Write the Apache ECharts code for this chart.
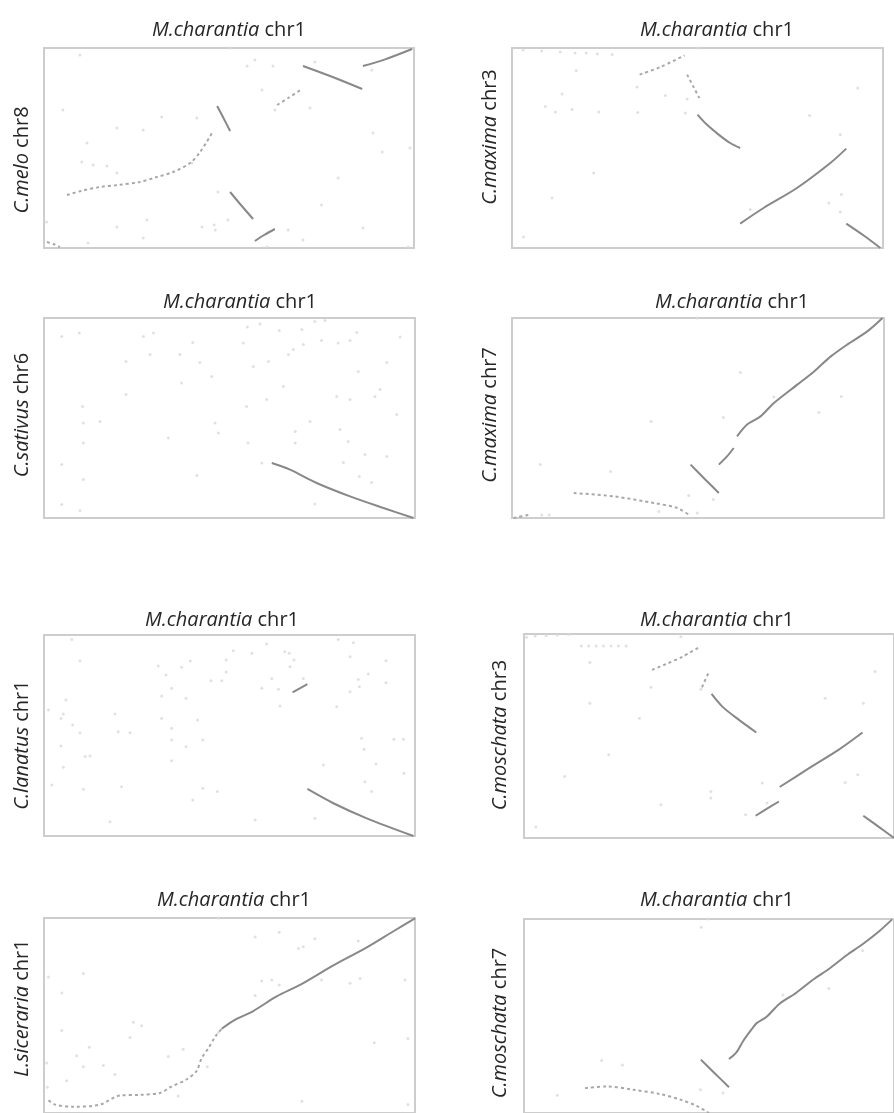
<!DOCTYPE html>
<html>
<head>
<meta charset="utf-8">
<script src="https://cdn.jsdelivr.net/npm/echarts@6/dist/echarts.min.js"></script>
<style>
  html, body { margin: 0; padding: 0; background: #ffffff; }
  #chart { width: 894px; height: 1113px; }
</style>
</head>
<body>
<div id="chart"></div>
<script>
// Reference chromosome shown on every x axis
const xGenus = 'M.charantia';
const xChr = 'chr1';

// Query chromosome shown on each y axis (panel order: row by row, left to right)
const yGenus = ['C.melo', 'C.maxima', 'C.sativus', 'C.maxima', 'C.lanatus', 'C.moschata', 'L.siceraria', 'C.moschata'];
const yChr = ['chr8', 'chr3', 'chr6', 'chr7', 'chr1', 'chr3', 'chr1', 'chr7'];

// Positions are relative (% of chromosome length) on both axes.
// "blocks" = collinear runs, "trails" = sparse, broken runs, "dots" = isolated matches.

// Panel 1: C.melo chr8
const p1Blocks = [
  [[86.2, 91], [92, 94.2], [99.5, 99.5]],
  [[70, 91], [78, 85.5], [86, 79.5]],
  [[46.8, 71], [48.5, 65], [50.3, 58.5]],
  [[50.3, 28], [53, 22], [56.5, 14.5]],
  [[57, 3.5], [59.5, 6.5], [62.4, 9.5]]
];
const p1Trails = [
  [[63, 71.5], [66, 75], [69.7, 79.5]],
  [[6.2, 26.5], [10, 28.5], [15.1, 30.5], [20, 31.5], [25.9, 33], [30.5, 35.5], [34.9, 38], [39.5, 42.5], [42.2, 48], [45.4, 57.5]],
  [[0.8, 3], [2.5, 2], [4.3, 0.5]]
];
const p1Dots = [
  [9.7, 96.5], [5.1, 69], [11.6, 52.5], [10.2, 43], [13.3, 41.5], [17, 41], [19.7, 37.5], [19.7, 60], [26.8, 59],
  [31.8, 65.5], [41.3, 65], [40, 42.5], [27.8, 14], [19.7, 10.5], [26.8, 5], [0.7, 13], [11.9, 2.5], [42.7, 10.5],
  [47, 28], [49.7, 14], [46, 11.5], [46.3, 9], [54.9, 91], [57, 94], [58.9, 79], [61.9, 91], [62.4, 69], [71.9, 70],
  [73.2, 93], [88.6, 89], [88.9, 57.5], [91.4, 48], [98.9, 50], [79.5, 35], [75, 21.5], [86.2, 10], [98.4, 0.5],
  [66, 9], [70, 4], [50.3, 100], [60.3, 0.5]
];

// Panel 2: C.maxima chr3
const p2Blocks = [
  [[50, 66.7], [52.5, 61.7], [55.7, 56.7], [58.8, 52.5], [61.5, 50]],
  [[61.5, 12.2], [67.8, 20], [76.8, 30], [85.8, 42.5], [90.1, 49.7]],
  [[90.1, 12.2], [95, 6], [99.3, 0]]
];
const p2Trails = [
  [[34.4, 86.7], [40, 90.5], [46.5, 96.3]],
  [[47.2, 86.7], [48.8, 81], [50.5, 75]]
];
const p2Dots = [
  [3, 99], [8, 98.5], [13, 98], [17, 97.5], [20, 97.5], [23, 97], [27, 96.7],
  [17.3, 88.7], [13.5, 77], [9, 70.8], [11.7, 68], [16.2, 69.2], [23.4, 68], [33.7, 80.5], [33.9, 67.8],
  [41.3, 76.2], [47.2, 74.5], [46.7, 67.5], [22, 37.5], [10.8, 25], [3.1, 5.5], [80.2, 66.2], [93.2, 80],
  [88.5, 56.7], [88.8, 26.7], [85.4, 22.5], [88.5, 18], [64.2, 19.2], [50.3, 100]
];

// Panel 3: C.sativus chr6
const p3Blocks = [
  [[61.4, 27.5], [66.3, 24.2], [73.5, 17.5], [82.5, 10.8], [91.5, 5], [99.6, 0]]
];
const p3Trails = [];
const p3Dots = [
  [4.8, 90.8], [9.5, 92.5], [26.8, 90.8], [29.5, 92.5], [40.1, 87.8], [54.8, 95.5], [58.2, 97], [63.4, 93.8],
  [69.5, 94.2], [73, 98.3], [75.7, 98.8], [84.3, 92.8], [96, 90.5], [82.5, 88.8], [79.3, 87.5], [74.8, 88.7],
  [69.9, 86.7], [53.7, 87.5], [22.1, 78.3], [28.6, 81.7], [36.6, 81.7], [42, 77.8], [56.4, 75.8], [60.5, 78.3],
  [65.9, 81.7], [67.2, 84.2], [92.4, 77.8], [84.7, 73.3], [45.2, 70.8], [37.1, 67.5], [64.5, 65.8], [22.1, 61.7],
  [60, 59.2], [78.9, 60.8], [82.5, 59.2], [89.2, 60.8], [90.6, 64.2], [95.1, 51.7], [10.4, 55.8], [54.6, 55.8],
  [71.7, 48.3], [67.7, 43.3], [79.8, 44.2], [10.6, 47.5], [15.1, 48.3], [46.1, 47.5], [47, 42.5], [33.5, 40],
  [10.6, 37.5], [55, 37.5], [67.7, 37.5], [82, 38.3], [86.5, 31.7], [92.4, 30.8], [80.7, 27.8], [4.8, 26.7],
  [41.2, 21.2], [10.6, 19.2], [58.7, 27.5], [85, 20.8], [88.3, 17.8], [4.8, 6.7], [9.7, 3.8], [73, 7]
];

// Panel 4: C.maxima chr7
const p4Blocks = [
  [[55.6, 26.7], [57.8, 30.8], [59.6, 35]],
  [[60.5, 40.8], [63.2, 46.7], [66.8, 50.8], [70.4, 57.5], [76.7, 66.7], [81.2, 73.3], [85.7, 80.8], [90.1, 86.7], [95.5, 93.3], [99.6, 100]],
  [[48, 26.7], [51.8, 19.5], [55.6, 12.5]]
];
const p4Trails = [
  [[16.6, 12.5], [27.4, 10.8], [38.1, 7.5], [44.4, 5], [47.5, 1.7]],
  [[0.4, 0], [4.9, 1.7]]
];
const p4Dots = [
  [61.4, 72.8], [70.4, 60.5], [88.5, 60.8], [82.5, 52.8], [56.8, 50.3], [37.4, 48.3], [7.6, 26.7], [26.5, 23.3],
  [47.5, 11.2], [54.1, 9.2], [39.5, 3.3], [49.8, 2.5], [49.8, 100], [8, 1.5], [10, 1.5]
];

// Panel 5: C.lanatus chr1
const p5Blocks = [
  [[67, 71.5], [71, 75.5]],
  [[71, 23.4], [78, 16.3], [87, 8.8], [99.6, 0]]
];
const p5Trails = [];
const p5Dots = [
  [7.5, 97.8], [9.7, 87.2], [30.8, 84.6], [32.9, 80.1], [37.1, 83.9], [39.4, 87.1], [49.1, 87.6], [51, 92.2],
  [56, 90.9], [60, 95.5], [64.9, 91.7], [66.1, 90.9], [67.4, 87.6], [66.3, 84.2], [79.3, 97.8], [83.4, 96.2],
  [82.5, 89.2], [92.2, 87.2], [87.4, 80.6], [84.7, 77.9], [85, 74.3], [82.5, 71.8], [92.2, 76.3], [78.9, 64.3],
  [69.9, 78.4], [61.4, 78.4], [58.7, 73.5], [63.2, 73], [63.6, 64.7], [45, 77.3], [47.9, 77.3], [49.1, 81.6],
  [34.4, 73.5], [31.7, 69.7], [38.3, 68.5], [5.9, 67.7], [1.2, 62.7], [5.2, 60.7], [4.6, 58.5], [19.1, 60.7],
  [7.7, 55.2], [9.7, 51.4], [20, 51.9], [23.2, 51.4], [31.7, 58.5], [34.4, 53.6], [34.4, 47.8], [41.4, 57.7],
  [42.8, 47.8], [38.3, 44.4], [4.6, 44.8], [11.1, 39.5], [12.4, 39.8], [5.2, 34.2], [34.4, 37.5], [85.6, 48.6],
  [86.3, 43.1], [94.3, 48.1], [96.9, 48.1], [89.5, 35.8], [97, 31.2], [86.5, 27], [75.3, 35.3], [88.3, 22.1],
  [2.1, 25.4], [10.6, 23.2], [20.9, 24.5], [42.8, 23.7], [46.7, 22.1], [40.1, 17.9], [73, 8.8], [56.9, 8], [17.8, 7.1]
];

// Panel 6: C.moschata chr3
const p6Blocks = [
  [[50.7, 70.6], [53.6, 64.4], [58.1, 57.9], [62.8, 51.7]],
  [[69.1, 25], [77.8, 35.1], [85, 43.2], [91.5, 51.7]],
  [[62.6, 10.9], [65.8, 14.5], [68.9, 17.9]],
  [[91.7, 10.9], [95.8, 5.6], [100, 0]]
];
const p6Trails = [
  [[34.6, 82.4], [38.4, 85.3], [42.9, 88.9], [47.3, 93.5]],
  [[48.1, 73.9], [50, 81.6]]
];
const p6Dots = [
  [0.7, 98.4], [3, 99], [6, 99.3], [9, 99.5], [12, 99.8], [15.5, 94.1], [17.5, 94.1], [19.5, 94.1], [21.5, 94.1],
  [23.5, 94.1], [25.5, 94.1], [27.6, 94.1],
  [17.8, 86], [34.3, 73.9], [47.8, 72.9], [17.8, 66.1], [31.2, 58.7], [22.9, 40.8], [11, 30.2], [50.5, 22.8],
  [50.5, 19.6], [37, 16.3], [64.4, 26.9], [65.7, 17.1], [59.9, 11.4], [3.2, 5.4], [81.4, 68.5], [91.7, 66.1],
  [94.9, 81.6], [86.8, 27.2], [90.2, 31], [42.4, 98.7]
];

// Panel 7: L.siceraria chr1
const p7Blocks = [
  [[47.9, 43.2], [51, 47.3], [56.4, 52.3], [62.7, 59.8], [69, 65.7], [78, 75.7], [86.9, 84.8], [94.2, 93.2], [100, 99.8]]
];
const p7Trails = [
  [[1.2, 6.5], [3, 4.3], [7.9, 3.2], [15.1, 4.3], [20.5, 9], [25.9, 9.3], [31.3, 10.3], [34, 13.2], [38.5, 17.3],
   [41.1, 21.5], [42.5, 28.2], [44.3, 33.2], [46.1, 39], [47.9, 43.2]]
];
const p7Dots = [
  [10.6, 71.5], [4.8, 61.5], [1.2, 69.8], [4.8, 42.3], [8.8, 29.3], [10.6, 23.7], [12.2, 33.7], [16, 24.3],
  [19.1, 19.8], [24.1, 46.5], [26.3, 44.8], [23.2, 38.7], [33.5, 29], [37.5, 32.7], [47, 41.3], [44, 23.7],
  [56.9, 90.3], [63.4, 92.7], [73, 89.3], [68.6, 84.3], [69.9, 85.3], [58.7, 67.7], [61.4, 68.2], [63.4, 65.7],
  [56.9, 60.3], [84.7, 88.2], [82.5, 66.5], [85.2, 69], [97.3, 68.2], [74.8, 68.2], [98.1, 38.2], [89, 36],
  [69.5, 6], [98.1, 4.3], [47, 100], [0.9, 13.2], [6.1, 16.5], [0.7, 25.7], [36.2, 8.7]
];

// Panel 8: C.moschata chr7
const p8Blocks = [
  [[55.4, 27.8], [57.4, 31.2], [59.2, 37], [61.4, 42.8], [62.8, 46.2], [65.5, 49.5], [69, 56.2], [73.6, 62],
   [78.1, 68.7], [82.6, 74.5], [87.1, 81.2], [91.5, 87], [96, 93.7], [99.5, 99.8]],
  [[47.8, 27.5], [51.6, 20.4], [55.4, 13.3]]
];
const p8Trails = [
  [[16.5, 12.8], [22.3, 13.7], [29.5, 12], [36.7, 9.8], [42.1, 7], [46.6, 3.7], [50, 0]]
];
const p8Dots = [
  [47.9, 95.8], [49.7, 100], [70, 60.8], [82.4, 64.2], [91.5, 83.7], [21, 27], [26.6, 24.8], [9, 9.2],
  [47.7, 12], [53.8, 10.3]
];

const panelBlocks = [p1Blocks, p2Blocks, p3Blocks, p4Blocks, p5Blocks, p6Blocks, p7Blocks, p8Blocks];
const panelTrails = [p1Trails, p2Trails, p3Trails, p4Trails, p5Trails, p6Trails, p7Trails, p8Trails];
const panelDots = [p1Dots, p2Dots, p3Dots, p4Dots, p5Dots, p6Dots, p7Dots, p8Dots];

// Panel frames on the page (left, top, width, height)
const frames = [
  [44, 48, 370, 200], [512, 48, 371, 200],
  [44, 318, 371, 200], [512, 318, 372, 200],
  [44, 635, 371, 201], [524, 634, 372, 204],
  [44, 918, 371, 200], [524, 919, 371, 200]
];
// Title centres and rotated y-label centres
const titlePos = [[224, 25], [712, 25], [235, 297], [727, 297], [217, 615], [712, 615], [229, 895], [712, 895]];
const yLabelPos = [[22, 160], [490, 137], [22, 415], [490, 415], [22, 745], [500, 735], [22, 1008], [500, 1023]];

const FONT = '"Open Sans", "Noto Sans", sans-serif';
const FS = 20;
const TEXT = '#262626';

const grids = [], xAxes = [], yAxes = [], titles = [], graphics = [], series = [];

frames.forEach((f, i) => {
  grids.push({
    left: f[0], top: f[1], width: f[2], height: f[3],
    show: true, borderColor: '#cdcdcd', borderWidth: 2, backgroundColor: '#ffffff'
  });
  xAxes.push({ gridIndex: i, type: 'value', min: 0, max: 100, show: false });
  yAxes.push({ gridIndex: i, type: 'value', min: 0, max: 100, show: false });

  titles.push({
    text: '{i|' + xGenus + '} ' + xChr,
    left: titlePos[i][0], top: titlePos[i][1] - 13, textAlign: 'center',
    textStyle: {
      fontFamily: FONT, fontSize: FS, fontWeight: 'normal', color: TEXT, lineHeight: 26,
      rich: { i: { fontFamily: FONT, fontSize: FS, fontStyle: 'italic', color: TEXT, lineHeight: 26 } }
    }
  });

  graphics.push({
    type: 'text', x: yLabelPos[i][0], y: yLabelPos[i][1], rotation: Math.PI / 2,
    style: {
      text: '{i|' + yGenus[i] + '} ' + yChr[i],
      fontFamily: FONT, fontSize: FS, fill: TEXT, align: 'center', verticalAlign: 'middle',
      rich: { i: { fontFamily: FONT, fontSize: FS, fontStyle: 'italic', fill: TEXT } }
    }
  });

  series.push({
    type: 'scatter', xAxisIndex: i, yAxisIndex: i, data: panelDots[i],
    symbolSize: 3, itemStyle: { color: '#dadada' }, silent: true
  });
  panelTrails[i].forEach(t => series.push({
    type: 'line', xAxisIndex: i, yAxisIndex: i, data: t, showSymbol: false, smooth: 0.3,
    lineStyle: { color: '#a8a8a8', width: 2, type: [3, 3] }, silent: true
  }));
  panelBlocks[i].forEach(b => series.push({
    type: 'line', xAxisIndex: i, yAxisIndex: i, data: b, showSymbol: false, smooth: 0.3,
    lineStyle: { color: '#888888', width: 2 }, silent: true
  }));
});

const chart = echarts.init(document.getElementById('chart'), null, { renderer: 'canvas' });
chart.setOption({
  animation: false,
  backgroundColor: '#ffffff',
  title: titles,
  grid: grids,
  xAxis: xAxes,
  yAxis: yAxes,
  graphic: graphics,
  series: series
});
</script>
</body>
</html>
